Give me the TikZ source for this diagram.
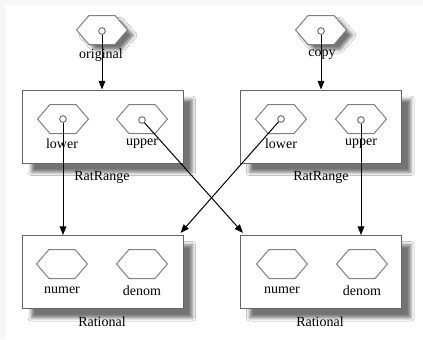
\documentclass[tikz,border=0pt]{standalone}
\usepackage{fontspec}
\setmainfont{Liberation Serif}
\usetikzlibrary{arrows.meta,shadows.blur}

\tikzset{
  box/.style={draw={rgb, 255:red, 102; green, 102; blue, 102 }, fill=white, line width=0.75,
    minimum width=120.75pt, minimum height=54.75pt, inner sep=0pt,
    blur shadow={shadow xshift=7pt, shadow yshift=-7pt, shadow blur radius=2.5pt, shadow opacity=55}},
  hexline/.style={draw={rgb, 255:red, 128; green, 128; blue, 128 }, fill=white, line width=0.75},
  hexshadow/.style={blur shadow={shadow xshift=4.5pt, shadow yshift=-4pt, shadow blur radius=2.5pt, shadow opacity=55}},
  hexa/.pic={\draw[hexline] (-25.5,0) -- (-13,-14.5) -- (13,-14.5) -- (25.5,0) -- (13,14.5) -- (-13,14.5) -- cycle;},
  hexas/.pic={\draw[hexline, hexshadow] (-25.5,0) -- (-13,-14.5) -- (13,-14.5) -- (25.5,0) -- (13,14.5) -- (-13,14.5) -- cycle;},
  port/.style={circle, draw={rgb, 255:red, 90; green, 90; blue, 90 }, fill=white, inner sep=0pt, minimum size=5pt, line width=0.6},
  lbl/.style={font=\fontsize{10.5}{12}\selectfont, inner sep=0pt},
  link/.style={line width=0.75, -{Triangle[length=6.5pt, width=5pt]}},
}

\begin{document}
\begin{tikzpicture}[x=0.75pt,y=0.75pt,yscale=-1,xscale=1]
\useasboundingbox (0,0) rectangle (423,339);
%Background
\fill[black!3] (0,0) rectangle (423,339);
\fill[white] (6,5) rectangle (423,339);

%Boxes
\node[box] (rrA) at (102.5,126.5) {};
\node[box] (rrB) at (321,126.5) {};
\node[box] (ratA) at (102.5,272) {};
\node[box] (ratB) at (321,272) {};

%Hexagons
\pic at (102,30) {hexas};
\pic at (321,30) {hexas};
\pic at (63,119) {hexa};
\pic at (142,119) {hexa};
\pic at (281,119) {hexa};
\pic at (361,119) {hexa};
\pic at (62,264) {hexa};
\pic at (142,264) {hexa};
\pic at (282,264) {hexa};
\pic at (362,264) {hexa};

% Text Node
\node[lbl] (origt) at (101,55) {original};
% Text Node
\node[lbl] (copyt) at (322,55) {copy};
% Text Node
\node[lbl] (lowAt) at (62,144) {lower};
% Text Node
\node[lbl] (upAt) at (142,144) {upper};
% Text Node
\node[lbl] (lowBt) at (281,144) {lower};
% Text Node
\node[lbl] (upBt) at (361,144) {upper};
% Text Node
\node[lbl] (rrAt) at (102,177) {RatRange};
% Text Node
\node[lbl] (rrBt) at (321,177) {RatRange};
% Text Node
\node[lbl] (numAt) at (62,290) {numer};
% Text Node
\node[lbl] (denAt) at (142,291) {denom};
% Text Node
\node[lbl] (numBt) at (282,290) {numer};
% Text Node
\node[lbl] (denBt) at (362,291) {denom};
% Text Node
\node[lbl] (ratAt) at (102,322) {Rational};
% Text Node
\node[lbl] (ratBt) at (320,322) {Rational};

%Ports
\node[port] (origp) at (102,31) {};
\node[port] (copyp) at (321,31) {};
\node[port] (lowAp) at (63,119) {};
\node[port] (upAp) at (142,120) {};
\node[port] (lowBp) at (281,119) {};
\node[port] (upBp) at (361,120) {};

%Straight Lines
\draw[link] (origp) -- (origp |- rrA.north);
\draw[link] (copyp) -- (copyp |- rrB.north);
\draw[link] (lowAp) -- (lowAp |- ratA.north);
\draw[link] (upAp) -- ([shift={(3,-2)}]ratB.north west);
\draw[link] (lowBp) -- ([shift={(-3,-2)}]ratA.north east);
\draw[link] (upBp) -- (upBp |- ratB.north);

\end{tikzpicture}
\end{document}
